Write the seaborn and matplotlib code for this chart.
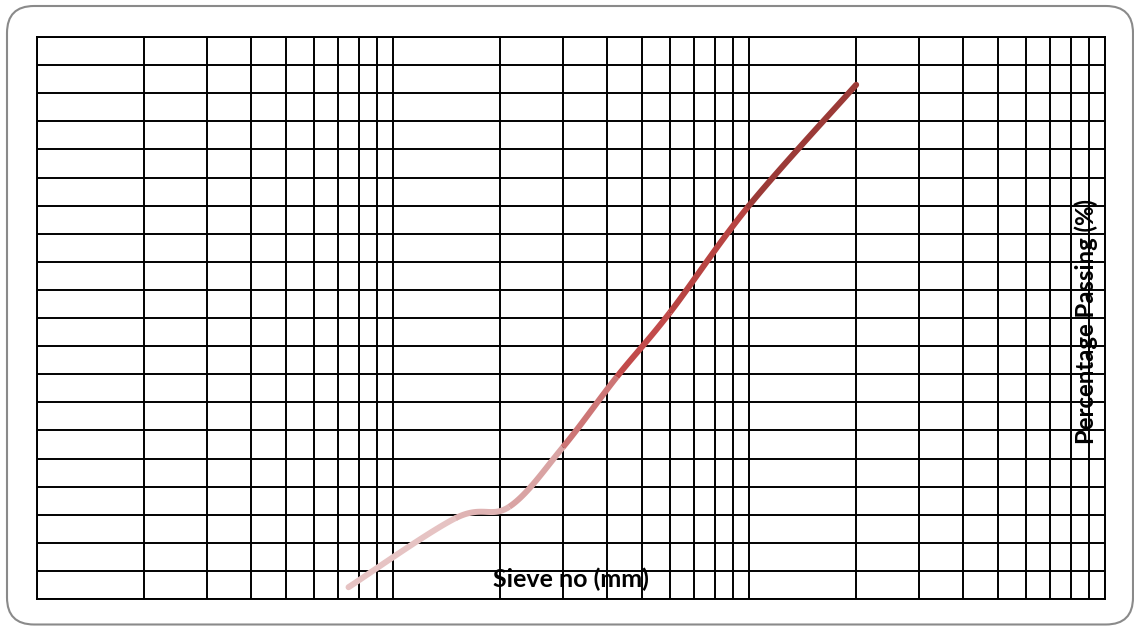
import numpy as np
import matplotlib
matplotlib.use("Agg")
import matplotlib.pyplot as plt
from matplotlib.patches import FancyBboxPatch
import seaborn as sns

sns.set_theme(style="white")
plt.rcParams["font.family"] = ["Lato", "DejaVu Sans"]

# sieve sizes (mm) and percentage passing
sieve_mm = [0.075, 0.15, 0.212, 0.3, 0.425, 0.6, 1.0, 2.0]
passing = [2.1, 14.4, 16.4, 27.0, 39.5, 51.0, 70.0, 91.5]
segment_colors = ["#e6c3c3", "#dfb3b3", "#d9a3a3", "#cd7676",
                  "#c24b4b", "#b84442", "#9b3a37"]

fig = plt.figure(figsize=(11.34, 6.26), dpi=100)
ax = fig.add_axes([37 / 1134, 1 - 599 / 626, (1105 - 37) / 1134, (599 - 37) / 626])

ax.set_xscale("log")
ax.set_xlim(0.01, 10)
ax.set_ylim(0, 100)
ax.set_yticks(np.arange(0, 101, 5))
ax.grid(True, which="both", axis="x", color="black", linewidth=1.4)
ax.grid(True, which="major", axis="y", color="black", linewidth=1.4)
ax.tick_params(which="both", length=0, labelbottom=False, labelleft=False)
for s in ax.spines.values():
    s.set_color("black")
    s.set_linewidth(1.4)

# smooth line (Catmull-Rom, like a spreadsheet "smoothed line"), one colour per segment
px = np.log10(sieve_mm) * 356.0
py = np.array(passing) * 5.62
n = len(px)
t = np.linspace(0, 1, 30)
for i in range(n - 1):
    p0 = (px[max(i - 1, 0)], py[max(i - 1, 0)])
    p1 = (px[i], py[i])
    p2 = (px[i + 1], py[i + 1])
    p3 = (px[min(i + 2, n - 1)], py[min(i + 2, n - 1)])
    c1 = (p1[0] + (p2[0] - p0[0]) / 6, p1[1] + (p2[1] - p0[1]) / 6)
    c2 = (p2[0] - (p3[0] - p1[0]) / 6, p2[1] - (p3[1] - p1[1]) / 6)
    bx = ((1 - t) ** 3 * p1[0] + 3 * (1 - t) ** 2 * t * c1[0]
          + 3 * (1 - t) * t ** 2 * c2[0] + t ** 3 * p2[0])
    by = ((1 - t) ** 3 * p1[1] + 3 * (1 - t) ** 2 * t * c1[1]
          + 3 * (1 - t) * t ** 2 * c2[1] + t ** 3 * p2[1])
    sns.lineplot(x=10 ** (bx / 356.0), y=by / 5.62, ax=ax, color=segment_colors[i],
                 linewidth=4.3, sort=False, estimator=None,
                 solid_capstyle="round" if i in (0, n - 2) else "butt", zorder=3)

ax.set_xlabel("")
ax.set_ylabel("")
ax.text(0.4995, 0.035, "Sieve no (mm)", transform=ax.transAxes, ha="center", va="center",
        fontsize=18, fontweight="bold", color="black", zorder=4)
ax.text(0.982, 0.493, "Percentage Passing (%)", transform=ax.transAxes, ha="center",
        va="center", rotation=90, fontsize=17.2, fontweight="bold", color="black", zorder=4)

border = FancyBboxPatch((7, 1.5), 1126, 618.5, boxstyle="round,pad=0,rounding_size=27",
                        transform=None, fill=False, edgecolor="#8a8a8a", linewidth=1.5)
fig.patches.append(border)

fig.savefig("out.png", dpi=100)
